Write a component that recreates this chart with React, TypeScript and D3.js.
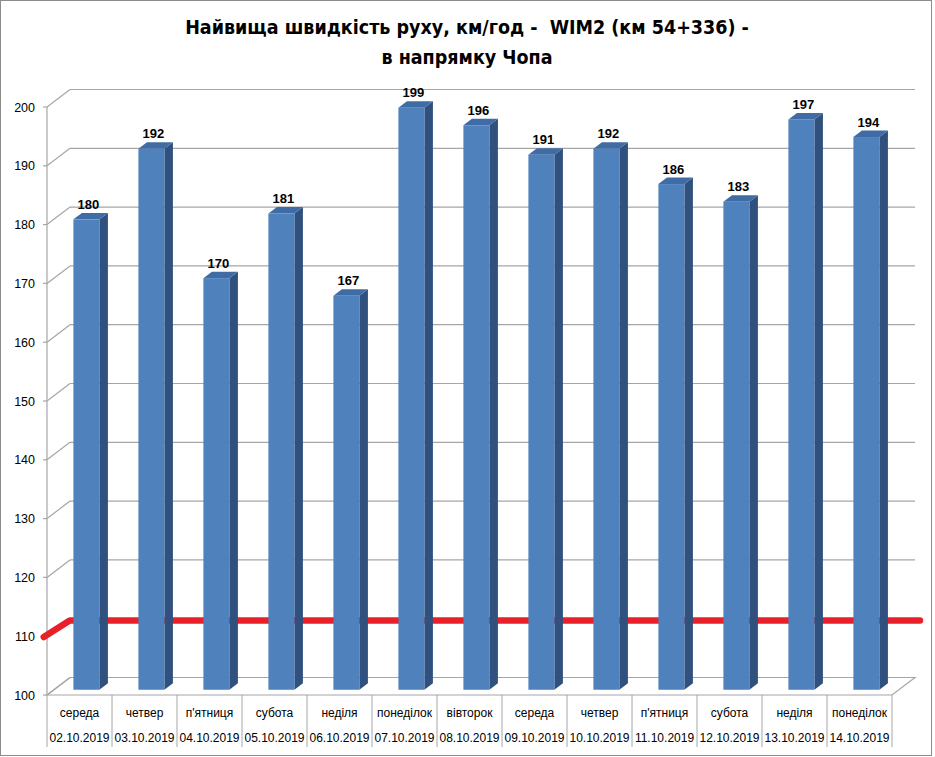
import React from "react";
import * as d3 from "d3";

const titleLines = ["Найвища швидкість руху, км/год -  WIM2 (км 54+336) -", "в напрямку Чопа"];
const days = ["середа", "четвер", "п'ятниця", "субота", "неділя", "понеділок", "вівторок", "середа", "четвер", "п'ятниця", "субота", "неділя", "понеділок"];
const dates = ["02.10.2019", "03.10.2019", "04.10.2019", "05.10.2019", "06.10.2019", "07.10.2019", "08.10.2019", "09.10.2019", "10.10.2019", "11.10.2019", "12.10.2019", "13.10.2019", "14.10.2019"];
const speeds = [180, 192, 170, 181, 167, 199, 196, 191, 192, 186, 183, 197, 194];
const yTicks = [100, 110, 120, 130, 140, 150, 160, 170, 180, 190, 200];
const limitIdx = [-0.55, -0.15, 12.93];
const limitVal = [109.85, 112.65, 112.65];

const W = 935, H = 757;
const X0 = 47, X1 = 892, Y0 = 695, Y1 = 107;
const DX = 23, DY = -17.5;
const D0 = 0.3, D1 = 0.67;

export default function App() {
  const y = d3.scaleLinear().domain([100, 200]).range([Y0, Y1]);
  const x = d3.scaleBand<string>().domain(dates).range([X0, X1]).paddingInner(0.6).paddingOuter(0.3);
  const step = x.step();
  const idxX = (i: number) => X0 + (i + 0.5) * step;
  const gray = "#a6a6a6";
  const font = "'Liberation Sans', Arial, sans-serif";

  const limitLine = d3.line<number>().x((_, i) => idxX(limitIdx[i])).y((v) => y(v));

  return (
    <svg width={W} height={H} style={{ position: "absolute", left: 0, top: 0, background: "#fff" }}>
      <rect x={0.5} y={0.5} width={931} height={755} fill="#fff" stroke="#8c8c8c" />
      {titleLines.map((t, i) => (
        <text key={i} x={467} y={34 + i * 30} textAnchor="middle" fontFamily="'Liberation Sans Narrow', 'DejaVu Sans Condensed', sans-serif" fontWeight="bold" fontSize={19.5} fill="#000" style={{ whiteSpace: "pre" }}>
          {t}
        </text>
      ))}
      {/* back wall gridlines */}
      {yTicks.map((t) => (
        <g key={t}>
          {t !== 100 && <line x1={X0 + DX} x2={X1 + DX} y1={y(t) + DY} y2={y(t) + DY} stroke={gray} strokeWidth={1.2} />}
          <line x1={X0} x2={X0 + DX} y1={y(t)} y2={y(t) + DY} stroke={gray} strokeWidth={1.2} />
          <line x1={X0 - 4} x2={X0} y1={y(t)} y2={y(t)} stroke={gray} strokeWidth={1.2} />
          <text x={35} y={y(t) + 4.5} textAnchor="end" fontFamily={font} fontSize={12.5} fill="#000">{t}</text>
        </g>
      ))}
      {/* floor */}
      <path d={`M${X0},${Y0}L${X0 + DX},${Y0 + DY}L${X1 + DX},${Y0 + DY}L${X1},${Y0}Z`} fill="none" stroke={gray} strokeWidth={1.2} />
      <line x1={X0} x2={X0} y1={Y1} y2={Y0} stroke={gray} strokeWidth={1.2} />
      {/* table */}
      {d3.range(dates.length + 1).map((i) => (
        <line key={i} x1={X0 + i * step} x2={X0 + i * step} y1={Y0} y2={747} stroke={gray} strokeWidth={1} />
      ))}
      {dates.map((d, i) => (
        <g key={d} fontFamily={font} fontSize={12} fill="#000" textAnchor="middle">
          <text x={idxX(i)} y={717}>{days[i]}</text>
          <text x={idxX(i)} y={742}>{d}</text>
        </g>
      ))}
      {/* limit line */}
      <path d={limitLine(limitVal) || ""} fill="none" stroke="#e8202a" strokeWidth={6.5} strokeLinecap="round" strokeLinejoin="round" />
      {/* bars */}
      {speeds.map((v, i) => {
        const bx = (x(dates[i]) as number) + DX * D0;
        const bw = x.bandwidth();
        const oy = DY * D0;
        const top = y(v) + oy;
        const bot = y(100) + oy;
        const sdx = DX * (D1 - D0), sdy = DY * (D1 - D0);
        return (
          <g key={i}>
            <path d={`M${bx + bw},${top}L${bx + bw + sdx},${top + sdy}L${bx + bw + sdx},${bot + sdy}L${bx + bw},${bot}Z`} fill="#30507d" />
            <path d={`M${bx},${top}L${bx + sdx},${top + sdy}L${bx + bw + sdx},${top + sdy}L${bx + bw},${top}Z`} fill="#406ca6" />
            <rect x={bx} y={top} width={bw} height={bot - top} fill="#4f81bd" />
            <text x={bx + bw / 2 + 2} y={top + sdy - 4} textAnchor="middle" fontFamily={font} fontWeight="bold" fontSize={13} fill="#000">{v}</text>
          </g>
        );
      })}
    </svg>
  );
}
